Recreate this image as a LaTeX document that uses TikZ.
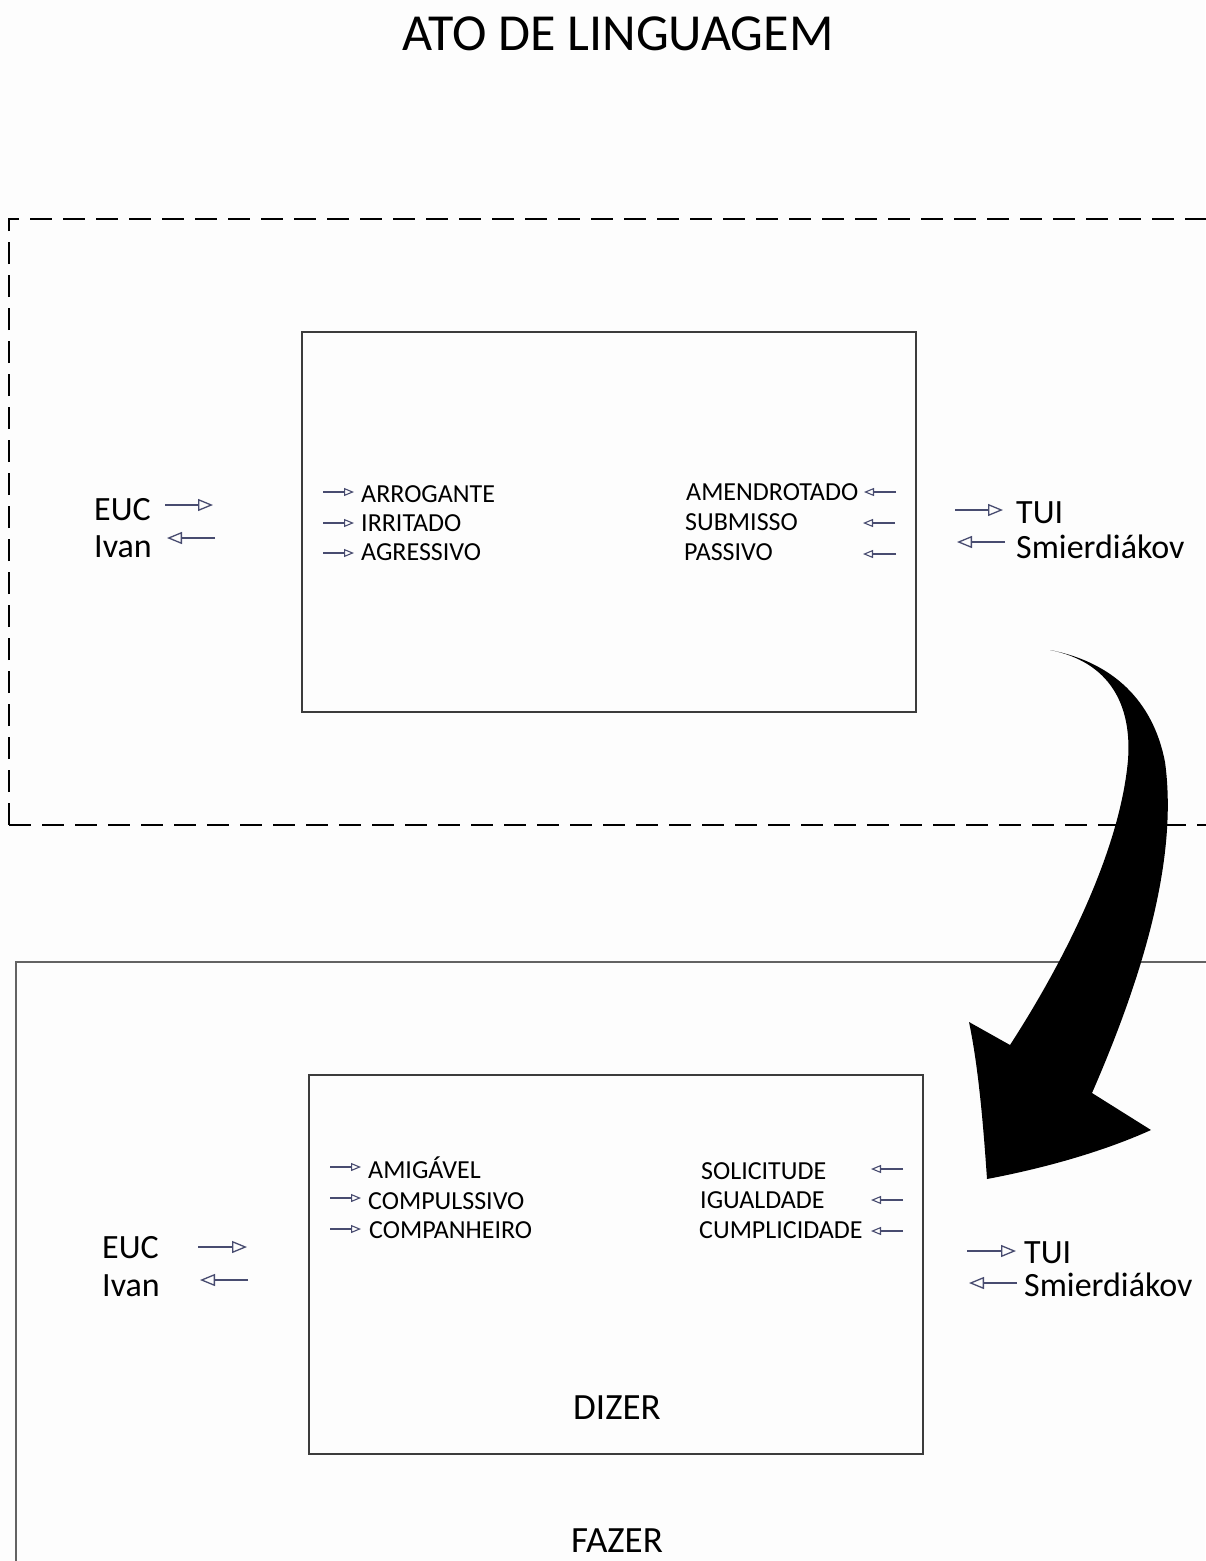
\documentclass[tikz,border=0pt]{standalone}
\usepackage{fontspec}
\setmainfont{Carlito}
\usetikzlibrary{arrows.meta}
\definecolor{arrowc}{RGB}{72,76,112}
\definecolor{boxc}{RGB}{60,60,60}
\definecolor{bgc}{RGB}{253,253,253}
\begin{document}
\begin{tikzpicture}[x=1pt,y=-1pt,
  smarrow/.style={draw=arrowc, line width=1.1pt, -{Triangle[open,length=10pt,width=8pt]}},
  bigarrow/.style={draw=arrowc, line width=1.3pt, -{Triangle[open,length=15pt,width=12pt]}},
  lbl/.style={anchor=base west, inner sep=0pt, font=\fontsize{26}{26}\selectfont},
  who/.style={anchor=base west, inner sep=0pt, font=\fontsize{34}{34}\selectfont},
  ttl/.style={anchor=base, inner sep=0pt, font=\fontsize{37}{37}\selectfont},
  innerbox/.style={draw=boxc, line width=1.2pt}]
\fill[bgc] (0,0) rectangle (1205,1561);
\useasboundingbox (0,0) rectangle (1205,1561);

% title
\node[anchor=base, inner sep=0pt, font=\fontsize{52}{52}\selectfont] (title) at (618,50) {ATO DE LINGUAGEM};

% dashed frame
\draw[line width=2.4pt, dash pattern=on 22pt off 11pt] (9,825) -- (9,219) -- (1220,219);
\draw[line width=2.4pt, dash pattern=on 22pt off 11pt] (9,825) -- (1220,825);

% solid frame
\draw[draw=boxc!80, line width=2pt] (1220,962) -- (16,962) -- (16,1575);

% inner boxes
\draw[innerbox] (302,332) rectangle (916,712);
\draw[innerbox] (309,1075) rectangle (923,1454);

% ---------- top block ----------
\node[who] (euc1) at (94,520) {EUC};
\node[who] (ivan1) at (94,557) {Ivan};
\draw[bigarrow] (165,505) -- (213,505);
\draw[bigarrow] (215,538) -- (167,538);

\node[who] (tui1) at (1016,523) {TUI};
\node[who] (smi1) at (1016,558) {Smierdiákov};
\draw[bigarrow] (955,510) -- (1003,510);
\draw[bigarrow] (1005,542) -- (957,542);

\node[lbl] (arr) at (361,502) {ARROGANTE};
\node[lbl] (irr) at (361,531) {IRRITADO};
\node[lbl] (agr) at (361,560) {AGRESSIVO};
\draw[smarrow] (323,492) -- (354,492);
\draw[smarrow] (323,523) -- (354,523);
\draw[smarrow] (323,553) -- (354,553);

\node[lbl] (ame) at (686,500) {AMENDROTADO};
\node[lbl] (sub) at (685,530) {SUBMISSO};
\node[lbl] (pas) at (684,560) {PASSIVO};
\draw[smarrow] (896,492) -- (864,492);
\draw[smarrow] (895,523) -- (863,523);
\draw[smarrow] (896,554) -- (863,554);

% ---------- bottom block ----------
\node[who] (euc2) at (102,1258) {EUC};
\node[who] (ivan2) at (102,1296) {Ivan};
\draw[bigarrow] (198,1247) -- (247,1247);
\draw[bigarrow] (248,1280) -- (200,1280);

\node[who] (tui2) at (1024,1263) {TUI};
\node[who] (smi2) at (1024,1296) {Smierdiákov};
\draw[bigarrow] (967,1251) -- (1016,1251);
\draw[bigarrow] (1017,1283) -- (969,1283);

\node[lbl] (ami) at (368,1178) {AMIGÁVEL};
\node[lbl] (com) at (368,1209) {COMPULSSIVO};
\node[lbl] (cpn) at (369,1238) {COMPANHEIRO};
\draw[smarrow] (330,1167) -- (361,1167);
\draw[smarrow] (330,1198) -- (361,1198);
\draw[smarrow] (330,1229) -- (361,1229);

\node[lbl] (sol) at (701,1179) {SOLICITUDE};
\node[lbl] (igu) at (700,1208) {IGUALDADE};
\node[lbl] (cum) at (699,1238) {CUMPLICIDADE};
\draw[smarrow] (903,1169) -- (871,1169);
\draw[smarrow] (903,1200) -- (871,1200);
\draw[smarrow] (903,1231) -- (871,1231);

\node[ttl] (dizer) at (617,1419) {DIZER};
\node[ttl] (fazer) at (617,1552) {FAZER};

% big curved arrow
\fill[black] (1050,650)
  .. controls (1112,662) and (1153,700) .. (1165,762)
  .. controls (1177,850) and (1150,960) .. (1092,1093)
  -- (1151,1130)
  .. controls (1100,1153) and (1040,1169) .. (987,1179)
  .. controls (983,1120) and (978,1065) .. (969,1022)
  -- (1010,1045)
  .. controls (1065,960) and (1120,850) .. (1128,760)
  .. controls (1132,705) and (1110,662) .. (1050,650)
  -- cycle;
\end{tikzpicture}
\end{document}
